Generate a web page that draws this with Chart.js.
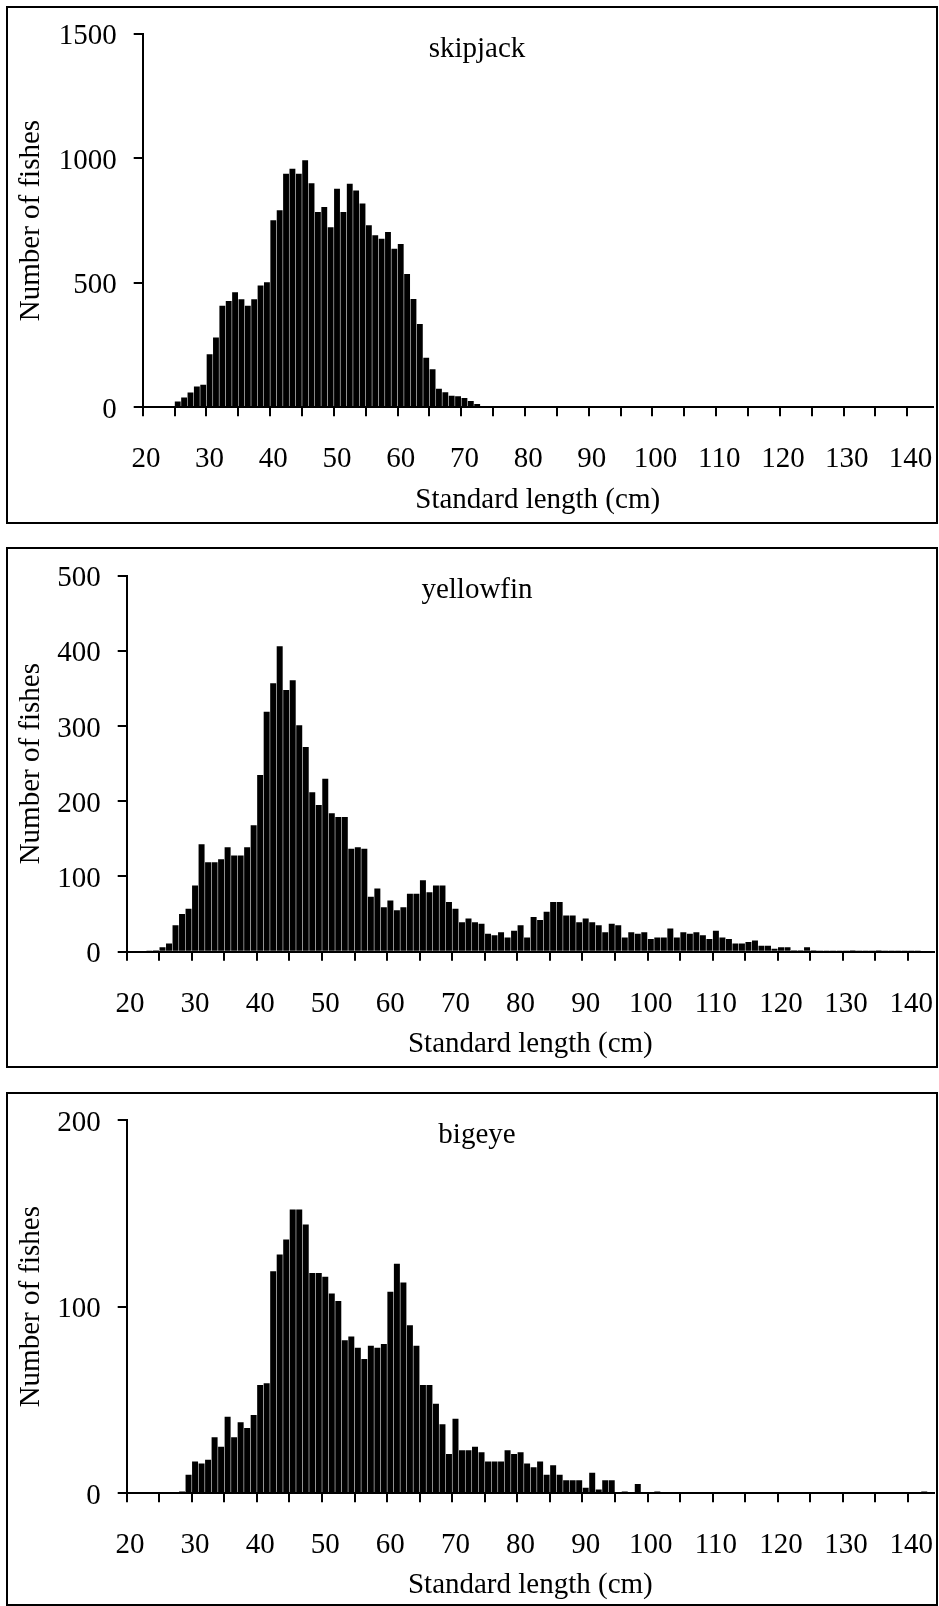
<!DOCTYPE html>
<html>
<head>
<meta charset="utf-8">
<script src="https://cdn.jsdelivr.net/npm/chart.js@4.4.1/dist/chart.umd.min.js"></script>
<style>
html, body { margin: 0; padding: 0; background: #fff; }
body { width: 939px; height: 1606px; position: relative; overflow: hidden; }
.panel { position: absolute; left: 6px; width: 932px; border: 2px solid #000; box-sizing: border-box; background: #fff; }
.panel canvas { display: block; }
</style>
</head>
<body>
<div class="panel" style="top:6px;height:518px"><canvas id="c1" width="928" height="514"></canvas></div>
<div class="panel" style="top:547px;height:521px"><canvas id="c2" width="928" height="517"></canvas></div>
<div class="panel" style="top:1092px;height:514px"><canvas id="c3" width="928" height="510"></canvas></div>
<script>
// Categories: standard length classes (cm)
const lengthsCm = [
  20,21,22,23,24,25,26,27,28,29,
  30,31,32,33,34,35,36,37,38,39,
  40,41,42,43,44,45,46,47,48,49,
  50,51,52,53,54,55,56,57,58,59,
  60,61,62,63,64,65,66,67,68,69,
  70,71,72,73,74,75,76,77,78,79,
  80,81,82,83,84,85,86,87,88,89,
  90,91,92,93,94,95,96,97,98,99,
  100,101,102,103,104,105,106,107,108,109,
  110,111,112,113,114,115,116,117,118,119,
  120,121,122,123,124,125,126,127,128,129,
  130,131,132,133,134,135,136,137,138,139,
  140,141,142,143
];

const xTickLabels = [20,30,40,50,60,70,80,90,100,110,120,130,140];

const skipjackYTicks = [0,500,1000,1500];
const yellowfinYTicks = [0,100,200,300,400,500];
const bigeyeYTicks = [0,100,200];

const skipjackCounts = [
  0,0,0,0,0,23,39,59,84,91,
  213,280,408,427,462,434,408,434,489,502,
  751,791,938,958,938,992,900,784,804,723,
  878,784,898,871,818,731,691,677,704,637,
  656,535,435,335,199,153,74,60,46,44,
  37,25,13,5,2,0,0,0,0,0,
  0,0,0,0,0,0,0,0,0,0,
  0,0,0,0,0,0,0,0,0,0,
  0,0,0,0,0,0,0,0,0,0,
  0,0,0,0,0,0,0,0,0,0,
  0,0,0,0,0,0,0,0,0,0,
  0,0,0,0,0,0,0,0,0,0,
  0,0,0,0
];

const yellowfinCounts = [
  0,0,0,1,2,6,11,35,50,57,
  88,143,119,119,123,139,128,128,139,168,
  235,319,357,406,348,361,301,272,212,195,
  230,184,179,179,137,139,137,73,84,59,
  68,55,59,77,77,95,79,88,88,66,
  57,39,44,39,37,24,22,26,19,28,
  35,19,46,42,53,66,66,48,48,39,
  44,39,35,26,37,35,19,26,24,26,
  17,19,19,31,19,26,24,26,22,17,
  28,19,17,11,11,13,15,8,8,4,
  6,6,2,2,6,2,1,1,1,1,
  1,2,1,1,1,2,1,1,1,1,
  1,1,0,0
];

const bigeyeCounts = [
  0,0,0,0,0,0,0,0,1,10,
  17,16,18,30,25,41,30,38,35,42,
  58,59,119,128,136,152,152,144,118,118,
  116,107,103,82,84,78,72,79,78,80,
  108,123,113,90,79,58,58,48,37,21,
  40,23,23,25,22,17,17,17,23,21,
  22,16,14,17,10,15,10,7,7,7,
  3,11,2,7,7,0,1,0,5,0,
  0,1,0,0,0,0,0,0,0,0,
  0,0,0,0,0,0,0,0,0,0,
  0,0,0,0,0,0,0,0,0,0,
  0,0,0,0,0,0,0,0,0,0,
  0,0,1,0
];

const FONT_FAMILY = '"Liberation Serif", "Times New Roman", Times, serif';
const FONT_SIZE = 29;

Chart.defaults.font.family = FONT_FAMILY;
Chart.defaults.font.size = FONT_SIZE;
Chart.defaults.color = '#000';

const speciesTitle = {
  id: 'speciesTitle',
  afterDraw(chart, args, opts) {
    const ctx = chart.ctx;
    ctx.save();
    ctx.font = FONT_SIZE + 'px ' + FONT_FAMILY;
    ctx.fillStyle = '#000';
    ctx.textAlign = 'center';
    ctx.textBaseline = 'middle';
    ctx.fillText(opts.text, opts.x, opts.y);
    ctx.restore();
  }
};

function makeChart(id, name, counts, yTicks, L) {
  const ctx = document.getElementById(id);
  return new Chart(ctx, {
    type: 'bar',
    data: {
      labels: lengthsCm,
      datasets: [{
        data: counts,
        backgroundColor: '#000',
        borderWidth: 0,
        barPercentage: 0.92,
        categoryPercentage: 1.0
      }]
    },
    plugins: [speciesTitle],
    options: {
      responsive: false,
      animation: false,
      events: [],
      layout: { padding: { top: L.top, right: L.right, left: 0, bottom: 0 } },
      plugins: {
        legend: { display: false },
        tooltip: { enabled: false },
        speciesTitle: { text: name, x: 469, y: L.titleY }
      },
      scales: {
        x: {
          type: 'category',
          offset: true,
          afterFit(scale) {
            scale.height = L.xHeight;
            scale.paddingLeft = 0;
            scale.paddingRight = 0;
          },
          border: { display: true, color: '#000', width: 2 },
          grid: {
            offset: true,
            drawOnChartArea: false,
            drawTicks: true,
            tickLength: 9,
            lineWidth: 2,
            color: (c) => (c.index % 5 === 0 ? '#000' : 'rgba(0,0,0,0)')
          },
          ticks: {
            autoSkip: false,
            maxRotation: 0,
            minRotation: 0,
            padding: L.xPad,
            color: '#000',
            callback: function (value, index) {
              const v = lengthsCm[index];
              return xTickLabels.includes(v) ? String(v) : '';
            }
          },
          title: {
            display: true,
            text: 'Standard length (cm)',
            color: '#000',
            padding: { top: 0, bottom: L.xTitlePad }
          }
        },
        y: {
          min: yTicks[0],
          max: yTicks[yTicks.length - 1],
          afterFit(scale) {
            scale.width = L.yWidth;
            scale.paddingTop = 0;
            scale.paddingBottom = 0;
          },
          afterBuildTicks(scale) { scale.ticks = yTicks.map(v => ({ value: v })); },
          border: { display: true, color: '#000', width: 2 },
          grid: {
            drawOnChartArea: false,
            drawTicks: true,
            tickLength: 9,
            lineWidth: 2,
            color: '#000'
          },
          ticks: {
            padding: 17,
            labelOffset: 3,
            color: '#000',
            callback: (v) => String(v)
          },
          title: {
            display: true,
            text: 'Number of fishes',
            color: '#000',
            padding: { top: 6, bottom: 0 }
          }
        }
      }
    }
  });
}

makeChart('c1', 'skipjack', skipjackCounts, skipjackYTicks,
  { top: 25.8, right: 3.3, yWidth: 134.7, xHeight: 114.7, xPad: 26, xTitlePad: 4.5, titleY: 41 });
makeChart('c2', 'yellowfin', yellowfinCounts, yellowfinYTicks,
  { top: 26.6, right: 2, yWidth: 118.7, xHeight: 114.3, xPad: 26, xTitlePad: 4.5, titleY: 41 });
makeChart('c3', 'bigeye', bigeyeCounts, bigeyeYTicks,
  { top: 26, right: 2, yWidth: 118.7, xHeight: 110.7, xPad: 26, xTitlePad: 1, titleY: 41 });
</script>
</body>
</html>
